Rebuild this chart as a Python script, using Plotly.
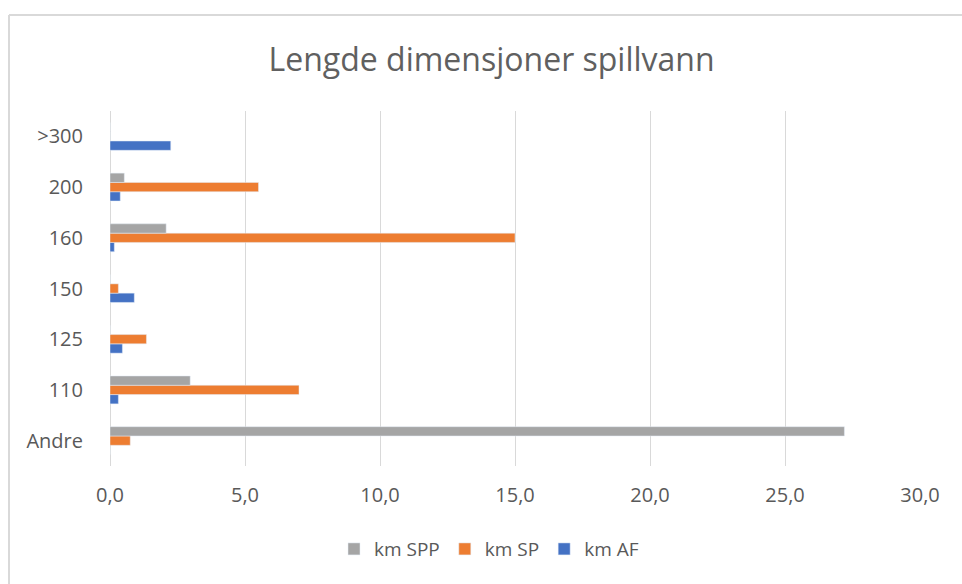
import plotly.graph_objects as go

categories = ["Andre", "110", "125", "150", "160", "200", ">300"]
km_spp = [27.2, 2.97, 0, 0, 2.08, 0.53, 0]
km_sp = [0.75, 7.0, 1.35, 0.31, 15.0, 5.5, 0]
km_af = [0, 0.31, 0.46, 0.9, 0.16, 0.38, 2.25]

x_ticks = [0, 5, 10, 15, 20, 25, 30]

TEXT = "#595959"
GRID = "#d9d9d9"
FONT = "Open Sans"

fig = go.Figure()
# horizontal groups stack bottom-up in trace order, so AF goes first
fig.add_trace(go.Bar(name="km AF", y=categories, x=km_af, orientation="h",
                     marker_color="#4472c4"))
fig.add_trace(go.Bar(name="km SP", y=categories, x=km_sp, orientation="h",
                     marker_color="#ed7d31"))
fig.add_trace(go.Bar(name="km SPP", y=categories, x=km_spp, orientation="h",
                     marker_color="#a5a5a5"))

fig.update_layout(
    width=962, height=584,
    margin=dict(l=110, r=42, t=111, b=118),
    paper_bgcolor="white", plot_bgcolor="white",
    separators=", ",
    barmode="group", bargap=0.45, bargroupgap=0,
    font=dict(family=FONT, color=TEXT),
    title=dict(text="Lengde dimensjoner spillvann", x=0.511, xanchor="center",
               xref="container", y=1 - 60 / 584, yanchor="middle",
               yref="container", font=dict(size=32, color="#606060", family=FONT)),
    legend=dict(orientation="h", traceorder="reversed", x=(489 - 110) / 810,
                xanchor="center", y=-0.234, yanchor="middle",
                font=dict(size=19, color=TEXT), itemwidth=30),
    showlegend=True,
)
fig.update_xaxes(range=[0, 30], tickvals=x_ticks, tickformat=".1f",
                 showgrid=True, gridcolor=GRID, gridwidth=1,
                 zeroline=True, zerolinecolor=GRID, zerolinewidth=1,
                 showline=False, ticks="outside", ticklen=11, tickcolor="white",
                 tickfont=dict(size=20, color=TEXT, family=FONT), fixedrange=True)
fig.update_yaxes(categoryorder="array", categoryarray=categories,
                 showgrid=False, showline=False, ticks="outside", ticklen=22,
                 tickcolor="white", tickfont=dict(size=20, color=TEXT, family=FONT))

# chart frame
fig.add_shape(type="line", xref="paper", yref="paper",
              x0=(9 - 110) / 810, x1=(962 - 110) / 810,
              y0=(466 - 15) / 355, y1=(466 - 15) / 355,
              line=dict(color="#d9d9d9", width=2))
fig.add_shape(type="line", xref="paper", yref="paper",
              x0=(9 - 110) / 810, x1=(9 - 110) / 810,
              y0=(466 - 15) / 355, y1=(466 - 584) / 355,
              line=dict(color="#d9d9d9", width=2))

fig.write_html("out.html")
